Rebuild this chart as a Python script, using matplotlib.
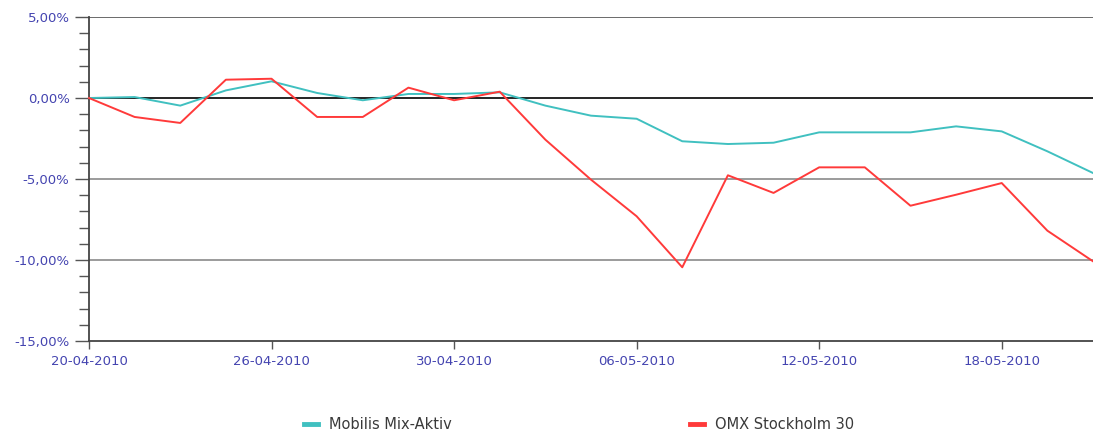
import numpy as np
import matplotlib
matplotlib.use('Agg')
import matplotlib.pyplot as plt
from matplotlib.ticker import FuncFormatter, MultipleLocator
from matplotlib.lines import Line2D

# trading days shown on the x axis
dates = ['20-04-2010', '21-04-2010', '22-04-2010', '23-04-2010', '26-04-2010',
	'27-04-2010', '28-04-2010', '29-04-2010', '30-04-2010', '03-05-2010',
	'04-05-2010', '05-05-2010', '06-05-2010', '07-05-2010', '10-05-2010',
	'11-05-2010', '12-05-2010', '13-05-2010', '14-05-2010', '17-05-2010',
	'18-05-2010', '19-05-2010', '20-05-2010']

# cumulative return in percent
mobilis = [0.0, 0.06, -0.47, 0.47, 1.03, 0.31, -0.14, 0.25, 0.25, 0.35,
	-0.47, -1.09, -1.28, -2.67, -2.84, -2.76, -2.12, -2.12, -2.12, -1.75,
	-2.06, -3.29, -4.63]
omx = [0.0, -1.17, -1.54, 1.13, 1.19, -1.17, -1.17, 0.64, -0.14, 0.39,
	-2.57, -5.04, -7.30, -10.45, -4.77, -5.86, -4.28, -4.28, -6.65, -5.97,
	-5.25, -8.19, -10.08]

series_names = ['Mobilis Mix-Aktiv', 'OMX Stockholm 30']
series_colors = ['#40c0c0', '#ff3a3a']

label_color = '#4444b0'

def pct_label(v, pos):
	# 5,00% style with comma as decimal mark
	return ('%.2f%%' % v).replace('.', ',')

fig = plt.figure(figsize=(10.93, 4.33), dpi=100)
ax = fig.add_axes([0.0814, 0.2125, 0.9186, 0.7482])

x = np.arange(len(dates))

#gridlines first so the series sit on top
ax.axhline(5, color='#6a6a6a', lw=1.4, zorder=1)
for y in [-5, -10]:
	ax.axhline(y, color='#8a8a8a', lw=1.2, zorder=1)
ax.axhline(0, color='black', lw=1.2, zorder=2)

ax.plot(x, mobilis, color=series_colors[0], lw=1.4, zorder=3, clip_on=False)
ax.plot(x, omx, color=series_colors[1], lw=1.4, zorder=3, clip_on=False)

ax.set_xlim(0, len(dates) - 1)
ax.set_ylim(-15, 5)

ax.spines['top'].set_visible(False)
ax.spines['right'].set_visible(False)
ax.spines['left'].set_color('#444444')
ax.spines['bottom'].set_color('#444444')
ax.spines['left'].set_linewidth(1.3)
ax.spines['bottom'].set_linewidth(1.3)

#y axis: labels every 5%, small ticks every 1%
ax.yaxis.set_major_locator(MultipleLocator(5))
ax.yaxis.set_minor_locator(MultipleLocator(1))
ax.yaxis.set_major_formatter(FuncFormatter(pct_label))
ax.tick_params(axis='y', which='major', length=10, width=1, color='#555555',
	labelsize=9.5, labelcolor=label_color, pad=4)
ax.tick_params(axis='y', which='minor', length=7, width=1, color='#555555')

#x axis: one label every fourth trading day
tick_idx = x[::4]
ax.set_xticks(tick_idx)
ax.set_xticklabels([dates[i] for i in tick_idx])
ax.tick_params(axis='x', which='major', length=6, width=1, color='#555555',
	labelsize=9.5, labelcolor=label_color, pad=4)

handles = [Line2D([], [], color=c, lw=3.5) for c in series_colors]
fig.legend(handles, series_names, loc='center left', ncol=2,
	bbox_to_anchor=(0.266, 0.02), frameon=False, fontsize=10.5,
	handlelength=1.0, handletextpad=0.75, columnspacing=16.3,
	labelcolor='#3a3a3a')

fig.savefig('out.png', dpi=100)
